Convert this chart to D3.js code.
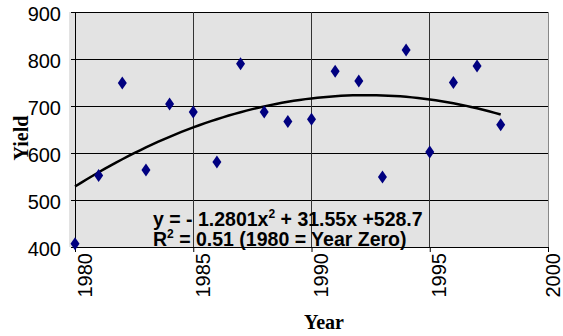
<!DOCTYPE html>
<html>
<head>
<meta charset="utf-8">
<script src="https://cdn.jsdelivr.net/npm/d3@7"></script>
<style>
  body { margin: 0; background: #fff; }
  svg { display: block; }
</style>
</head>
<body>
<div id="chart"></div>
<script>
// yield by year
const years = [1980, 1981, 1982, 1983, 1984, 1985, 1986, 1987, 1988, 1989,
               1990, 1991, 1992, 1993, 1994, 1995, 1996, 1997, 1998];
const yields = [407, 552, 749, 564, 704, 687, 581, 790, 687, 667,
                672, 774, 753, 549, 819, 602, 750, 785, 660];
// quadratic trend coefficients as printed (x = year - 1980)
const trendCoef = [-1.2801, 31.55, 528.7];
const xTicks = [1980, 1985, 1990, 1995, 2000];
const yTicks = [400, 500, 600, 700, 800, 900];

const W = 563, H = 336;
const svg = d3.select('#chart').append('svg').attr('width', W).attr('height', H);

const x = d3.scaleLinear().domain([1980, 2000]).range([75, 548]);
const y = d3.scaleLinear().domain([400, 900]).range([247, 12]);

// plot area background
svg.append('rect')
  .attr('x', 69).attr('y', y(900))
  .attr('width', x(2000) - 69).attr('height', y(400) - y(900))
  .attr('fill', '#e3e3e3');

// horizontal gridlines
svg.append('g').selectAll('line').data(yTicks.filter(d => d > 400)).enter()
  .append('line')
  .attr('x1', x(1980)).attr('x2', x(2000))
  .attr('y1', d => y(d)).attr('y2', d => y(d))
  .attr('stroke', '#000').attr('stroke-width', 1).attr('shape-rendering', 'crispEdges');

// vertical gridlines
svg.append('g').selectAll('line').data(xTicks.filter(d => d > 1980 && d < 2000)).enter()
  .append('line')
  .attr('x1', d => x(d)).attr('x2', d => x(d))
  .attr('y1', y(900)).attr('y2', y(400))
  .attr('stroke', '#333').attr('stroke-width', 1).attr('shape-rendering', 'crispEdges');

// right border
svg.append('line')
  .attr('x1', x(2000)).attr('x2', x(2000)).attr('y1', y(900)).attr('y2', y(400))
  .attr('stroke', '#888').attr('shape-rendering', 'crispEdges');

// y axis
const yAxis = svg.append('g')
  .attr('transform', 'translate(' + x(1980) + ',0)')
  .call(d3.axisLeft(y).tickValues(yTicks).tickSize(4).tickPadding(10).tickSizeOuter(0));
yAxis.select('.domain').attr('stroke', '#000');
yAxis.selectAll('text')
  .attr('font-family', 'Liberation Sans, Arial, sans-serif')
  .attr('font-size', 20).attr('fill', '#000').attr('dy', '0.4em');

// x axis
const xAxis = svg.append('g')
  .attr('transform', 'translate(0,' + y(400) + ')')
  .call(d3.axisBottom(x).tickValues(xTicks).tickFormat(d3.format('d')).tickSize(5).tickSizeOuter(0));
xAxis.select('.domain').attr('stroke', '#000');
xAxis.selectAll('text')
  .attr('font-family', 'Liberation Sans, Arial, sans-serif')
  .attr('font-size', 20).attr('fill', '#000')
  .attr('text-anchor', 'end')
  .attr('transform', d => 'translate(' + (d === 2000 ? 11 : 16) + ',6) rotate(-90)')
  .attr('x', 0).attr('y', 0).attr('dy', 0);

// trend line
const trendX = d3.range(0, 18.01, 0.25);
const trendLine = d3.line()
  .x(t => x(1980 + t))
  .y(t => y(trendCoef[0] * t * t + trendCoef[1] * t + trendCoef[2]));
svg.append('path').datum(trendX)
  .attr('d', trendLine)
  .attr('fill', 'none').attr('stroke', '#000').attr('stroke-width', 2.5);

// diamond markers
const diamond = 'M0,-6.5L4.5,0L0,6.5L-4.5,0Z';
svg.append('g').selectAll('path').data(years).enter()
  .append('path')
  .attr('d', diamond)
  .attr('transform', (d, i) => 'translate(' + x(d) + ',' + y(yields[i]) + ')')
  .attr('fill', '#000080');

// equation labels
const eq = svg.append('text')
  .attr('x', 153).attr('y', 226)
  .attr('font-family', 'Liberation Sans, Arial, sans-serif')
  .attr('font-weight', 'bold').attr('font-size', 19.5).attr('fill', '#000');
eq.append('tspan').text('y = - 1.2801x');
eq.append('tspan').attr('font-size', 12).attr('dy', -8).text('2');
eq.append('tspan').attr('dy', 8).text(' + 31.55x +528.7');

const r2 = svg.append('text')
  .attr('x', 153).attr('y', 246)
  .attr('font-family', 'Liberation Sans, Arial, sans-serif')
  .attr('font-weight', 'bold').attr('font-size', 19.5).attr('fill', '#000');
r2.append('tspan').text('R');
r2.append('tspan').attr('font-size', 12).attr('dy', -8).text('2');
r2.append('tspan').attr('dy', 8).text(' = 0.51 (1980 = Year Zero)');

// axis titles
svg.append('text')
  .attr('transform', 'translate(28,138) rotate(-90)')
  .attr('text-anchor', 'middle')
  .attr('font-family', 'Liberation Serif, Times New Roman, serif')
  .attr('font-weight', 'bold').attr('font-size', 20).attr('fill', '#000')
  .text('Yield');

svg.append('text')
  .attr('x', 324).attr('y', 329)
  .attr('text-anchor', 'middle')
  .attr('font-family', 'Liberation Serif, Times New Roman, serif')
  .attr('font-weight', 'bold').attr('font-size', 20).attr('fill', '#000')
  .text('Year');
</script>
</body>
</html>
